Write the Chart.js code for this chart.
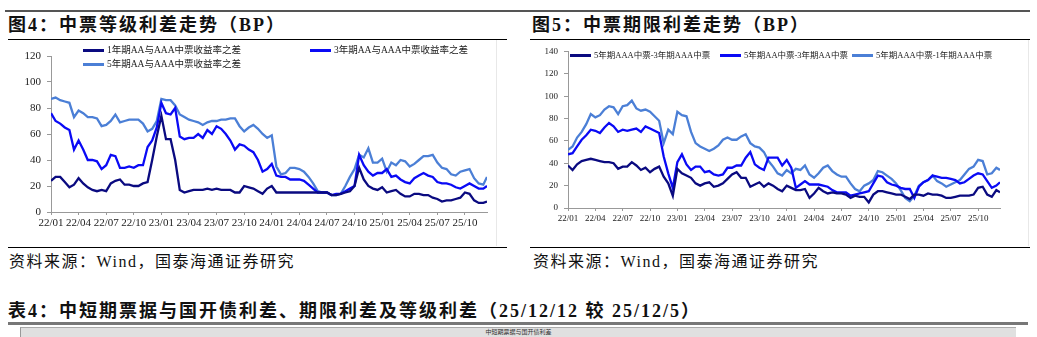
<!DOCTYPE html>
<html lang="zh-CN">
<head>
<meta charset="UTF-8">
<title>中票利差走势</title>
<script src="https://cdn.jsdelivr.net/npm/chart.js"></script>
<style>
  body { margin:0; width:1037px; height:337px; background:#fff; position:relative; overflow:hidden;
         font-family:"Liberation Serif","Noto Sans CJK SC",serif; color:#111; }
  .abs { position:absolute; }
  .topline { left:5px; top:10px; width:1025px; height:2px; background:#555; }
  .title { font-weight:bold; font-size:18px; line-height:20px; letter-spacing:2px; top:15px; white-space:nowrap; }
  .rule { height:1px; background:#000; }
  .src { font-size:16px; line-height:20px; letter-spacing:1.5px; top:252px; white-space:nowrap; }
  .frame { width:1px; background:#e8e8e8; top:40px; height:206px; }
  .legend-item { position:absolute; font-size:9.5px; line-height:14px; white-space:nowrap; display:flex; align-items:center; color:#222; }
  .legend-item.small { font-size:8.5px; }
  .legend-item i { display:inline-block; width:21px; height:3px; margin-right:3px; }
  canvas { position:absolute; }
</style>
</head>
<body>
<div class="abs topline"></div>
<div class="abs title" style="left:8px">图4：中票等级利差走势（BP）</div>
<div class="abs title" style="left:532px">图5：中票期限利差走势（BP）</div>
<div class="abs rule" style="left:8px;top:39px;width:499px"></div>
<div class="abs rule" style="left:530px;top:39px;width:500px"></div>
<div class="abs frame" style="left:496px"></div>
<div class="abs frame" style="left:1028px"></div>

<canvas id="gradeChart" width="505" height="195" style="left:0;top:40px"></canvas>
<canvas id="termChart" width="510" height="188" style="left:527px;top:40px"></canvas>
<div id="legends"></div>

<div class="abs rule" style="left:8px;top:247px;width:499px"></div>
<div class="abs rule" style="left:530px;top:247px;width:500px"></div>
<div class="abs src" style="left:9px">资料来源：Wind，国泰海通证券研究</div>
<div class="abs src" style="left:533px">资料来源：Wind，国泰海通证券研究</div>

<div class="abs title" style="left:8px;top:301px">表4：中短期票据与国开债利差、期限利差及等级利差（25/12/12 较 25/12/5）</div>
<div class="abs" style="left:8px;top:322px;width:1020px;height:3px;background:#777"></div>
<div class="abs" style="left:20px;top:327px;width:995px;height:12px;background:#e0e0e0;border-top:1px solid #aaa;border-left:1px solid #999;font-size:6px;line-height:8px;text-align:center;color:#333">中短期票据与国开债利差</div>

<script>
// x axis: months since 2022-01, half-month steps, last point 2025-12-12
const tickLabels = ['22/01','22/04','22/07','22/10','23/01','23/04','23/07','23/10',
                    '24/01','24/04','24/07','24/10','25/01','25/04','25/07','25/10'];
const tickPos = tickLabels.map((_, i) => i * 3);
const monthPos = [];
for (let i = 0; i <= 94; i++) monthPos.push(i / 2);
monthPos.push(47.4);

// 图4 等级利差 (BP)
const aa1y = [
  24,27,27,23,19,21,26,22,19,17,
  16,17,16,22,24,25,21,21,20,20,
  22,23,40,58,74,56,56,40,17,15,
  16,17,17,17,18,17,18,17,17,17,
  15,15,20,19,18,16,14,18,20,15,
  15,15,15,15,15,15,15,15,15,15,
  15,13,13,14,15,16,20,34,25,20,
  18,17,19,15,16,17,14,12,12,14,
  14,13,13,11,10,8,9,9,10,11,
  15,14,9,7,7,8];
const aa3y = [
  76,70,68,65,63,48,55,48,40,40,
  39,33,36,44,43,34,34,35,34,36,
  36,50,55,65,84,76,75,80,58,56,
  57,57,60,57,63,60,66,64,60,55,
  48,52,51,48,46,40,31,33,37,28,
  27,27,25,25,25,24,21,18,15,15,
  15,13,14,14,16,18,20,44,36,31,
  28,30,30,33,27,28,25,23,22,26,
  28,30,28,27,23,22,22,21,19,18,
  20,22,20,18,18,20];
const aa5y = [
  87,88,86,85,84,73,78,76,73,73,
  72,66,67,70,75,69,70,71,71,71,
  68,62,64,70,87,86,86,82,75,73,
  71,70,69,67,69,70,70,71,71,72,
  72,66,62,65,67,64,60,57,59,35,
  29,30,34,34,33,31,27,22,16,15,
  15,13,13,14,20,27,33,44,42,49,
  38,38,41,31,38,36,40,39,35,37,
  40,43,43,44,38,34,33,29,28,31,
  32,33,26,22,21,27];

// 图5 期限利差 (BP)
const aaa5m3 = [
  38,34,39,42,43,44,43,42,41,41,
  40,35,37,37,41,38,34,36,32,35,
  37,28,22,11,35,31,29,27,22,20,
  22,23,19,20,22,26,30,32,27,27,
  19,21,23,19,22,20,17,15,20,18,
  16,16,17,9,13,18,15,13,14,13,
  13,12,9,11,10,10,5,12,15,15,
  14,13,12,12,10,8,12,12,11,13,
  12,12,11,9,9,10,11,11,11,12,
  18,19,12,10,16,14];
const aa5m3 = [
  48,49,55,61,65,70,69,67,72,76,
  73,68,70,69,70,71,68,73,71,69,
  67,46,31,18,41,48,39,34,37,37,
  32,33,30,29,30,36,36,38,38,45,
  50,39,36,34,45,45,45,38,43,36,
  18,21,24,21,21,21,20,19,16,14,
  14,14,11,12,13,14,15,22,29,28,
  23,21,20,18,17,17,9,19,23,25,
  29,28,27,27,26,25,22,23,26,29,
  31,30,24,18,20,23];
const aaa5m1 = [
  52,55,63,68,75,84,81,83,88,91,
  90,84,91,92,96,89,87,88,86,82,
  78,58,70,66,86,83,82,68,58,55,
  53,51,53,56,61,63,61,61,64,66,
  58,55,54,50,42,37,31,29,34,31,
  35,34,38,30,27,31,36,38,33,30,
  28,28,22,17,15,20,22,25,33,32,
  29,26,22,16,9,6,11,20,23,25,
  29,24,22,19,21,23,25,30,35,37,
  43,42,30,31,36,34];

const NAVY = '#0a0a80', BLUE = '#0a0af5', LIGHT = '#4b7fd6';

const pts = arr => arr.map((v, i) => ({ x: monthPos[i], y: v }));

function makeChart(id, series, yMax, fontSize, pad, yWidth, xHeight) {
  return new Chart(document.getElementById(id), {
    type: 'line',
    data: {
      datasets: series.map(s => ({
        label: s.label, data: pts(s.values), borderColor: s.color,
        borderWidth: 2.3, pointRadius: 0, tension: 0
      }))
    },
    options: {
      responsive: false,
      animation: false,
      layout: { padding: pad },
      plugins: { legend: { display: false }, tooltip: { enabled: false } },
      scales: {
        x: {
          type: 'linear', min: 0, max: 47.4,
          afterBuildTicks: axis => { axis.ticks = tickPos.map(v => ({ value: v })); },
          afterFit: scale => { scale.height = xHeight; },
          grid: { drawOnChartArea: false, tickLength: 3, color: '#999' },
          border: { color: '#999' },
          ticks: {
            autoSkip: false, maxRotation: 0, padding: 2, color: '#222',
            font: { family: 'Liberation Serif', size: fontSize },
            callback: v => tickLabels[tickPos.indexOf(v)]
          }
        },
        y: {
          min: 0, max: yMax,
          afterFit: scale => { scale.width = yWidth; },
          grid: { drawOnChartArea: false, tickLength: 4, color: '#999' },
          border: { color: '#999' },
          ticks: {
            stepSize: 20, padding: 6, color: '#222',
            font: { family: 'Liberation Serif', size: fontSize }
          }
        }
      }
    }
  });
}

const gradeSeries = [
  { label: '1年期AA与AAA中票收益率之差', values: aa1y, color: NAVY },
  { label: '3年期AA与AAA中票收益率之差', values: aa3y, color: BLUE },
  { label: '5年期AA与AAA中票收益率之差', values: aa5y, color: LIGHT }
];
const termSeries = [
  { label: '5年期AAA中票-3年期AAA中票', values: aaa5m3, color: NAVY },
  { label: '5年期AA中票-3年期AA中票', values: aa5m3, color: BLUE },
  { label: '5年期AAA中票-1年期AAA中票', values: aaa5m1, color: LIGHT }
];

makeChart('gradeChart', gradeSeries, 120, 11, { top: 16, right: 18 }, 51, 23);
makeChart('termChart', termSeries, 140, 9, { top: 5, right: 37 }, 41, 20);

// legends: [series, left, centre y, css class]
const legendSpots = [
  [gradeSeries[0], 83, 50, ''], [gradeSeries[1], 310, 50, ''], [gradeSeries[2], 83, 64, ''],
  [termSeries[0], 570, 55, 'small'], [termSeries[1], 720, 55, 'small'], [termSeries[2], 852, 55, 'small']
];
const box = document.getElementById('legends');
legendSpots.forEach(([s, x, y, cls]) => {
  const d = document.createElement('div');
  d.className = 'legend-item ' + cls;
  d.style.left = x + 'px';
  d.style.top = (y - 7) + 'px';
  d.innerHTML = '<i style="background:' + s.color + '"></i>' + s.label;
  box.appendChild(d);
});
</script>
</body>
</html>
